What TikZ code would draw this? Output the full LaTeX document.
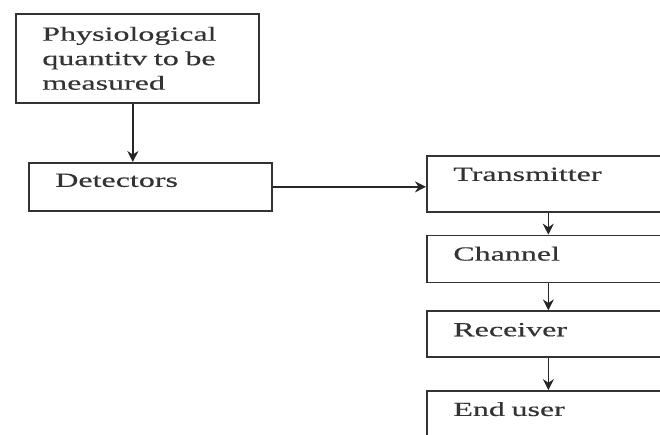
\documentclass[tikz,border=0pt]{standalone}
\usepackage{fontspec}
\usepackage{tikz}
\usetikzlibrary{positioning, arrows.meta}
\newfontfamily\blkfont[FakeStretch=1.6, FakeBold=0.4]{Liberation Serif}

\tikzset{
  blk/.style={draw=black!80, line width=1.7pt, rectangle, anchor=north west,
    text width=190pt, inner xsep=26.5pt, inner ysep=0pt, align=left,
    text=black!80, font=\blkfont\fontsize{20}{24.5}\selectfont},
  arr/.style={-{Stealth[length=11pt, width=11pt]}, draw=black!85, line width=1.5pt}
}

\begin{document}
\begin{tikzpicture}[x=1pt, y=-1pt, node distance=22pt]
          \useasboundingbox (0,0) rectangle (660,435);
          \clip (0,0) rectangle (660,435);

          % left column
          \node[blk, minimum height=89pt] (phys) at (15,13)
            {Physiological\\quantitv to be\\measured};
          \node[blk, text height=24pt, text depth=24pt] (det) at (28,162) {Detectors};

          % right column
          \node[blk, text height=25pt, text depth=31pt] (tx) at (426,155) {Transmitter};
          \node[blk, text height=25pt, text depth=22pt, below=22pt of tx] (ch) {Channel};
          \node[blk, text height=25pt, text depth=21pt, below=27pt of ch] (rx) {Receiver};
          \node[blk, text height=25pt, text depth=40pt, below=32pt of rx] (eu) {End user};

          \draw[arr] ([xshift=-4.5pt]phys.south) -- ([xshift=-4.5pt]phys.south |- det.north);
          \draw[arr] (det.east) -- (det.east -| tx.west);
          \draw[arr] (tx) -- (ch);
          \draw[arr] (ch) -- (rx);
          \draw[arr] (rx) -- (eu);
        \end{tikzpicture}
\end{document}
